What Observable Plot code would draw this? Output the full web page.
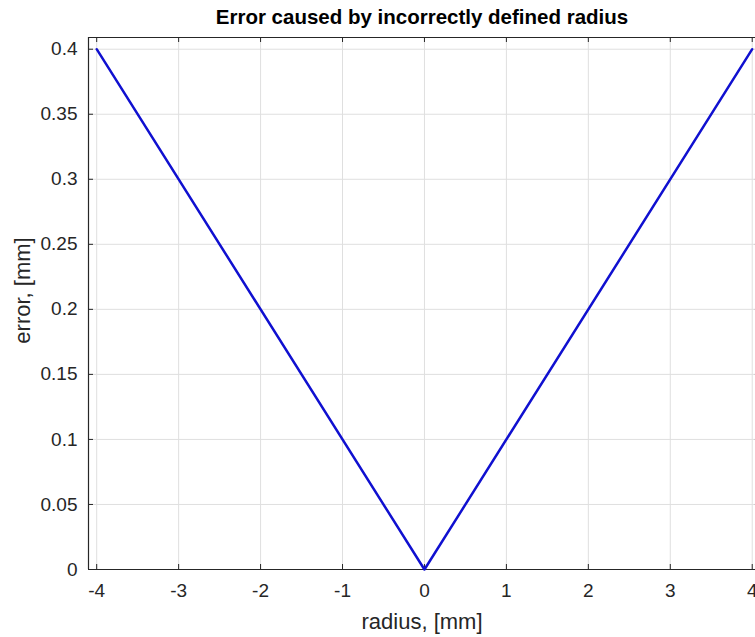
<!DOCTYPE html>
<html><head><meta charset="utf-8">
<script src="https://cdn.jsdelivr.net/npm/d3@7"></script>
<script src="https://cdn.jsdelivr.net/npm/@observablehq/plot@0.6"></script>
<style>body{margin:0;background:#fff;overflow:hidden}</style>
</head><body><div id="chart"></div>
<script>
const radius = [-4, 0, 4];
const error = [0.4, 0, 0.4];
const xTicks = [-4, -3, -2, -1, 0, 1, 2, 3, 4];
const yTicks = [0, 0.05, 0.1, 0.15, 0.2, 0.25, 0.3, 0.35, 0.4];
const titleText = "Error caused by incorrectly defined radius";
const xLabel = "radius, [mm]";
const yLabel = "error, [mm]";

const data = radius.map((r, i) => ({radius: r, error: error[i]}));
const xMin = -4.1, xMax = 4.04, xBox = 4.1, yMax = 0.409;
const W = 755, H = 637, mL = 88, mR = 0, mT = 37, mB = 68;
const tickLen = 5;
const xPerPx = (xMax - xMin) / (W - mL - mR);
const yPerPx = yMax / (H - mT - mB);
const dark = "#262626";

const chart = Plot.plot({
  width: W, height: H,
  marginLeft: mL, marginRight: mR, marginTop: mT, marginBottom: mB,
  style: {fontFamily: "'Liberation Sans', Arial, sans-serif", background: "#fff", color: dark, overflow: "visible"},
  x: {domain: [xMin, xMax]},
  y: {domain: [0, yMax]},
  marks: [
    Plot.gridX(xTicks, {stroke: "#dfdfdf", strokeOpacity: 1}),
    Plot.gridY(yTicks, {stroke: "#dfdfdf", strokeOpacity: 1}),
    Plot.axisX(xTicks, {tickSize: 0, tickPadding: 14, fontSize: 19, label: null, tickFormat: d => String(d), fill: dark}),
    Plot.axisY(yTicks, {tickSize: 0, tickPadding: 11, fontSize: 19, label: null, tickFormat: d => String(d), fill: dark}),
    // frame
    Plot.ruleY([0, yMax], {x1: xMin, x2: xBox, stroke: dark, strokeWidth: 1.2}),
    Plot.ruleX([xMin], {y1: 0, y2: yMax, stroke: dark, strokeWidth: 1.2}),
    // inward ticks
    Plot.ruleX(xTicks, {y1: 0, y2: tickLen * yPerPx, stroke: dark}),
    Plot.ruleX(xTicks, {y1: yMax, y2: yMax - tickLen * yPerPx, stroke: dark}),
    Plot.ruleY(yTicks, {x1: xMin, x2: xMin + tickLen * xPerPx, stroke: dark}),
    Plot.ruleY(yTicks, {x1: xBox - tickLen * xPerPx, x2: xBox, stroke: dark}),
    // data
    Plot.line(data, {x: "radius", y: "error", stroke: "#1010d0", strokeWidth: 2.5}),
    // texts
    Plot.text([titleText], {frameAnchor: "top", lineAnchor: "middle", textAnchor: "middle", dy: -20, fontSize: 20.5, fontWeight: "bold", fill: "#000"}),
    Plot.text([xLabel], {frameAnchor: "bottom", lineAnchor: "middle", textAnchor: "middle", dy: 52, fontSize: 22, fill: dark}),
    Plot.text([yLabel], {frameAnchor: "left", lineAnchor: "middle", textAnchor: "middle", dx: -66, dy: -13, rotate: -90, fontSize: 22, fill: dark})
  ]
});
document.getElementById("chart").append(chart);
</script>
</body></html>
